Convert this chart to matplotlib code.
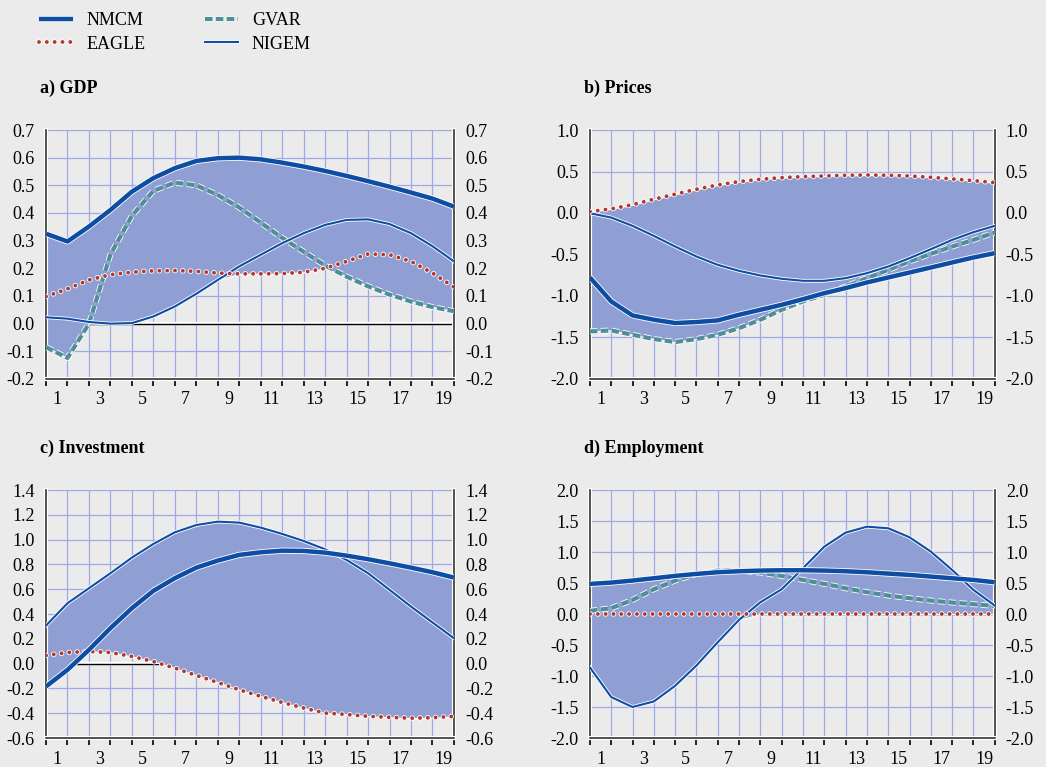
import matplotlib
matplotlib.use("Agg")
import matplotlib.pyplot as plt
import matplotlib.patheffects as pe
import numpy as np

plt.rcParams['font.family'] = ['Liberation Serif', 'DejaVu Serif']
plt.rcParams['axes.unicode_minus'] = False

# quarters after the shock (20 points, labels 1..19 between grid lines)
n_points = 20
x_labels = [str(k) for k in range(1, 20, 2)]

# a) GDP
gdp_nmcm = [0.325, 0.297, 0.351, 0.411, 0.477, 0.526, 0.562, 0.588, 0.598, 0.600,
            0.594, 0.582, 0.568, 0.552, 0.534, 0.515, 0.495, 0.474, 0.452, 0.423]
gdp_eagle = [0.098, 0.126, 0.158, 0.177, 0.186, 0.191, 0.192, 0.189, 0.183, 0.180,
             0.180, 0.181, 0.186, 0.200, 0.225, 0.252, 0.249, 0.225, 0.183, 0.132]
gdp_gvar = [-0.085, -0.124, 0.000, 0.250, 0.390, 0.480, 0.510, 0.500, 0.465, 0.420,
            0.365, 0.310, 0.260, 0.210, 0.170, 0.135, 0.105, 0.080, 0.060, 0.045]
gdp_nigem = [0.023, 0.018, 0.006, 0.000, 0.002, 0.026, 0.062, 0.108, 0.158, 0.207,
             0.249, 0.291, 0.327, 0.357, 0.375, 0.377, 0.360, 0.327, 0.280, 0.225]

# b) Prices
pr_nmcm = [-0.777, -1.066, -1.234, -1.286, -1.326, -1.314, -1.294, -1.226, -1.166, -1.106,
           -1.038, -0.966, -0.905, -0.837, -0.777, -0.717, -0.657, -0.596, -0.536, -0.484]
pr_eagle = [0.017, 0.050, 0.100, 0.166, 0.226, 0.286, 0.338, 0.378, 0.406, 0.426,
            0.438, 0.446, 0.454, 0.458, 0.454, 0.446, 0.430, 0.410, 0.390, 0.366]
pr_gvar = [-1.427, -1.415, -1.467, -1.519, -1.555, -1.519, -1.467, -1.387, -1.286, -1.166,
           -1.066, -0.986, -0.885, -0.785, -0.685, -0.584, -0.492, -0.404, -0.324, -0.235]
pr_nigem = [-0.003, -0.055, -0.155, -0.276, -0.404, -0.524, -0.625, -0.697, -0.753, -0.793,
            -0.817, -0.817, -0.785, -0.725, -0.645, -0.544, -0.436, -0.324, -0.231, -0.155]

# c) Investment (no GVAR)
inv_nmcm = [-0.184, -0.050, 0.111, 0.286, 0.447, 0.587, 0.689, 0.774, 0.831, 0.877,
            0.898, 0.911, 0.909, 0.895, 0.871, 0.842, 0.809, 0.774, 0.737, 0.694]
inv_eagle = [0.066, 0.090, 0.098, 0.090, 0.058, 0.017, -0.036, -0.095, -0.152, -0.211,
             -0.264, -0.313, -0.358, -0.399, -0.410, -0.425, -0.433, -0.440, -0.436, -0.425]
inv_nigem = [0.307, 0.487, 0.608, 0.729, 0.855, 0.965, 1.059, 1.118, 1.145, 1.137,
             1.097, 1.046, 0.989, 0.922, 0.836, 0.729, 0.595, 0.460, 0.332, 0.205]

# d) Employment
emp_nmcm = [0.486, 0.507, 0.540, 0.577, 0.615, 0.647, 0.674, 0.690, 0.701, 0.706,
            0.706, 0.701, 0.690, 0.674, 0.652, 0.631, 0.604, 0.577, 0.550, 0.513]
emp_eagle = [0.0] * 20
emp_gvar = [0.051, 0.094, 0.228, 0.400, 0.540, 0.647, 0.701, 0.701, 0.668, 0.615,
            0.550, 0.486, 0.416, 0.352, 0.298, 0.255, 0.217, 0.185, 0.158, 0.131]
emp_nigem = [-0.862, -1.340, -1.500, -1.410, -1.157, -0.830, -0.454, -0.094, 0.190, 0.400,
             0.738, 1.087, 1.313, 1.409, 1.383, 1.238, 1.007, 0.711, 0.389, 0.137]

BG = '#ebebeb'
FILL = '#8f9fd4'
GRID = '#9ea9e6'
BLUE = '#0e4da4'
RED = '#b5372a'
TEAL = '#4e8e96'

styles = {
    'NMCM': dict(color=BLUE, lw=3.2, solid_capstyle='butt'),
    'EAGLE': dict(color=RED, lw=2.8, dashes=(0.01, 2.0), dash_capstyle='round'),
    'GVAR': dict(color=TEAL, lw=3.0, dashes=(1.8, 0.8), dash_capstyle='butt'),
    'NIGEM': dict(color=BLUE, lw=1.5),
}

panels = [
    ('a) GDP', [0.044, 0.5059, 0.390, 0.3246], (-0.2, 0.7), np.arange(-0.2, 0.71, 0.1),
     {'NMCM': gdp_nmcm, 'EAGLE': gdp_eagle, 'GVAR': gdp_gvar, 'NIGEM': gdp_nigem}),
    ('b) Prices', [0.564, 0.5059, 0.387, 0.3246], (-2.0, 1.0), np.arange(-2.0, 1.01, 0.5),
     {'NMCM': pr_nmcm, 'EAGLE': pr_eagle, 'GVAR': pr_gvar, 'NIGEM': pr_nigem}),
    ('c) Investment', [0.044, 0.0378, 0.390, 0.3233], (-0.6, 1.4), np.arange(-0.6, 1.41, 0.2),
     {'NMCM': inv_nmcm, 'EAGLE': inv_eagle, 'NIGEM': inv_nigem}),
    ('d) Employment', [0.564, 0.0378, 0.387, 0.3233], (-2.0, 2.0), np.arange(-2.0, 2.01, 0.5),
     {'NMCM': emp_nmcm, 'EAGLE': emp_eagle, 'GVAR': emp_gvar, 'NIGEM': emp_nigem}),
]

fig = plt.figure(figsize=(10.46, 7.67), dpi=100, facecolor=BG)
x = np.arange(n_points)
handles = {}

for title, pos, ylim, yticks, series in panels:
    ax = fig.add_axes(pos)
    ax.set_facecolor(BG)
    ax.set_xlim(0, n_points - 1)
    ax.set_ylim(*ylim)

    # grid: vertical lines on every point, labels in between
    ax.set_xticks(x, minor=True)
    ax.set_xticks(np.arange(0.5, n_points - 1, 2))
    ax.set_xticklabels(x_labels, fontsize=13)
    ax.set_yticks(yticks)
    ax.set_yticklabels(['%.1f' % v for v in yticks], fontsize=13)
    ax.grid(True, which='minor', axis='x', color=GRID, lw=0.9, zorder=0)
    ax.grid(True, which='major', axis='y', color=GRID, lw=0.9, zorder=0)
    ax.set_axisbelow(True)
    ax.tick_params(axis='x', which='major', length=0, pad=9)
    ax.tick_params(axis='x', which='minor', direction='out', length=5, width=1.2, color='black')
    ax.tick_params(axis='y', length=0, pad=8, labelright=True)

    ax.spines['top'].set_visible(False)
    for s in ['left', 'right', 'bottom']:
        ax.spines[s].set_color('#333333')
        ax.spines[s].set_linewidth(1.2)
        ax.spines[s].set_path_effects([pe.Stroke(linewidth=3, foreground='white'), pe.Normal()])

    # zero line
    ax.axhline(0, color='black', lw=1.0, zorder=1.5,
               path_effects=[pe.Stroke(linewidth=2.5, foreground='white', offset=(0, 0.6)), pe.Normal()])

    vals = np.array(list(series.values()))
    ax.fill_between(x, vals.min(axis=0), vals.max(axis=0), color=FILL, lw=0.8,
                    edgecolor='white', zorder=2)

    for name in ['GVAR', 'NIGEM', 'EAGLE', 'NMCM']:
        if name not in series:
            continue
        st = styles[name]
        ln, = ax.plot(x, series[name], zorder=3, label=name,
                      path_effects=[pe.Stroke(linewidth=st['lw'] + 1.2, foreground='white'), pe.Normal()],
                      **st)
        handles[name] = ln

    fig.text(pos[0] - 0.006, pos[1] + pos[3] + 0.054, title, fontsize=13, fontweight='bold',
             va='center', ha='left')

order = ['NMCM', 'EAGLE', 'GVAR', 'NIGEM']
leg = fig.legend([handles[k] for k in order], order, loc='upper left', ncol=2,
                 bbox_to_anchor=(0.022, 1.005), frameon=False, fontsize=13,
                 handlelength=1.85, handletextpad=0.75, columnspacing=3.3, labelspacing=0.35)

fig.savefig('out.png', dpi=100, facecolor=BG)
